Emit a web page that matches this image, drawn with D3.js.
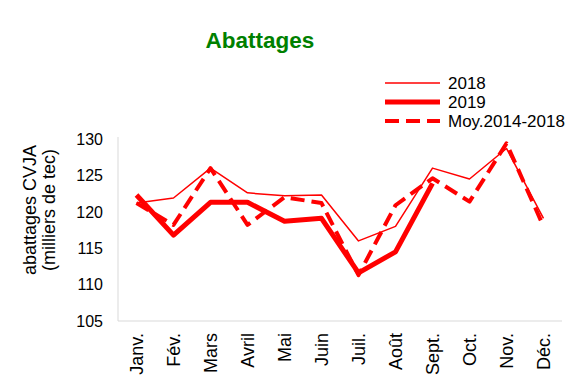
<!DOCTYPE html>
<html>
<head>
<meta charset="utf-8">
<script src="https://cdn.jsdelivr.net/npm/d3@7"></script>
<style>
    body { margin: 0; background: #fff; }
    text { font-family: "Liberation Sans", Arial, sans-serif; }
</style>
</head>
<body>
<div id="chart"></div>
<script>
// Chart data
const months = ["Janv.", "Fév.", "Mars", "Avril", "Mai", "Juin", "Juil.", "Août", "Sept.", "Oct.", "Nov.", "Déc."];
const values2018 = [121.2, 121.9, 126.0, 122.6, 122.2, 122.3, 116.0, 118.0, 126.0, 124.5, 128.7, 119.1];
const values2019 = [122.3, 116.8, 121.3, 121.3, 118.7, 119.1, 111.6, 114.5, 123.9];
const valuesMoy = [121.2, 118.2, 126.0, 118.2, 122.0, 121.2, 111.3, 120.9, 124.6, 121.4, 129.4, 118.0];
const yTicks = [105, 110, 115, 120, 125, 130];

const series = [
    { name: "2018", values: values2018, width: 1.5, dash: null },
    { name: "2019", values: values2019, width: 5, dash: null },
    { name: "Moy.2014-2018", values: valuesMoy, width: 4, dash: "14,7" }
];

const svg = d3.select("#chart").append("svg").attr("width", 577).attr("height", 388);
const margin = { top: 139, right: 15, bottom: 67, left: 118 };

const x = d3.scaleBand().domain(months).range([margin.left, margin.left + 444]);
const y = d3.scaleLinear().domain([105, 130]).range([321, 139]);

// Title
svg.append("text")
    .attr("x", 260).attr("y", 48)
    .attr("text-anchor", "middle")
    .attr("font-size", 22.5).attr("font-weight", "bold")
    .attr("fill", "#008000")
    .text("Abattages");

// Axes lines (grey)
svg.append("line")
    .attr("x1", margin.left).attr("x2", margin.left)
    .attr("y1", y(130) - 2).attr("y2", y(105))
    .attr("stroke", "#d9d9d9").attr("stroke-width", 1);
svg.append("line")
    .attr("x1", margin.left).attr("x2", x.range()[1])
    .attr("y1", y(105)).attr("y2", y(105))
    .attr("stroke", "#d9d9d9").attr("stroke-width", 1);

// Y tick labels
svg.selectAll(".ytick")
    .data(yTicks)
    .enter().append("text")
    .attr("class", "ytick")
    .attr("x", 103)
    .attr("y", d => y(d))
    .attr("dy", "0.36em")
    .attr("text-anchor", "end")
    .attr("font-size", 16)
    .text(d => d);

// X tick labels (rotated)
svg.selectAll(".xtick")
    .data(months)
    .enter().append("text")
    .attr("class", "xtick")
    .attr("transform", d => `translate(${x(d) + x.bandwidth() / 2 + 6},333) rotate(-90)`)
    .attr("text-anchor", "end")
    .attr("font-size", 18)
    .text(d => d);

// Y axis title
const ytitle = svg.append("text")
    .attr("transform", "translate(36,210) rotate(-90)")
    .attr("text-anchor", "middle")
    .attr("font-size", 18);
ytitle.append("tspan").attr("x", 0).attr("y", 0).text("abattages CVJA");
ytitle.append("tspan").attr("x", 0).attr("y", 19).text("(milliers de tec)");

// Lines
const line = d3.line()
    .x((d, i) => x(months[i]) + x.bandwidth() / 2)
    .y(d => y(d));

series.forEach(s => {
    svg.append("path")
        .datum(s.values)
        .attr("fill", "none")
        .attr("stroke", "#ff0000")
        .attr("stroke-width", s.width)
        .attr("stroke-linejoin", "round")
        .attr("stroke-dasharray", s.dash)
        .attr("d", line);
});

// Legend
const legend = svg.append("g");
series.forEach((s, i) => {
    const ly = 83 + i * 19;
    legend.append("line")
        .attr("x1", 385).attr("x2", 440)
        .attr("y1", ly).attr("y2", ly)
        .attr("stroke", "#ff0000")
        .attr("stroke-width", s.width)
        .attr("stroke-dasharray", s.dash);
    legend.append("text")
        .attr("x", 448).attr("y", ly)
        .attr("dy", "0.36em")
        .attr("font-size", 17)
        .text(s.name);
});
</script>
</body>
</html>
